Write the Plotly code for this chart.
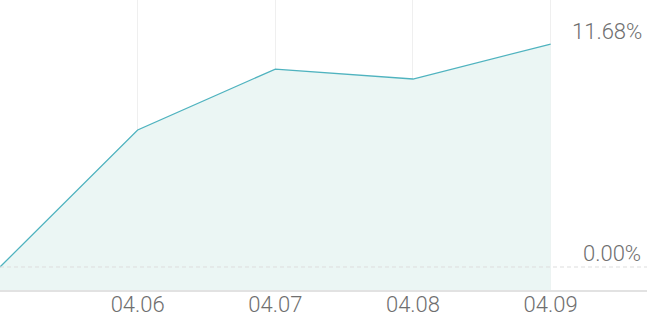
import plotly.graph_objects as go

dates = ["04.05", "04.06", "04.07", "04.08", "04.09"]
returns = [0.00, 7.18, 10.37, 9.85, 11.68]

X_MAX = 4.70
Y_MIN = -1.205
Y_MAX = 13.99

LINE = "#4fb3bf"
FILL = "#ebf6f4"
TEXT = "#6f6f6f"
FONT = "Roboto"

xs = list(range(len(dates)))

fig = go.Figure()
fig.add_trace(go.Scatter(x=xs, y=[Y_MIN] * len(xs), mode="lines",
                         line=dict(width=0), hoverinfo="skip", showlegend=False))
fig.add_trace(go.Scatter(x=xs, y=returns, mode="lines", fill="tonexty",
                         fillcolor=FILL, line=dict(color=LINE, width=1.3),
                         showlegend=False))

fig.add_shape(type="line", xref="paper", x0=0, x1=1, yref="y", y0=0, y1=0,
              line=dict(color="#dddddd", width=1, dash="4px,3px"), layer="above")

top = max(returns)
fig.add_annotation(x=1, xref="paper", y=top, yref="y", text=f"{top:.2f}%",
                   showarrow=False, xanchor="right", yanchor="middle",
                   yshift=13, xshift=-3,
                   font=dict(family=FONT, size=22, color=TEXT, weight=300))
fig.add_annotation(x=1, xref="paper", y=0, yref="y", text=f"{0:.2f}%",
                   showarrow=False, xanchor="right", yanchor="middle",
                   yshift=14, xshift=-4,
                   font=dict(family=FONT, size=22, color=TEXT, weight=300))

fig.update_xaxes(range=[0, X_MAX], tickvals=xs[1:], ticktext=dates[1:],
                 showgrid=True, gridcolor="#efefef", gridwidth=1,
                 showline=True, linecolor="#e2e2e2", linewidth=2,
                 ticks="", zeroline=False, automargin=False, ticklabelstandoff=-6,
                 tickfont=dict(family=FONT, size=22, color=TEXT, weight=300))
fig.update_yaxes(range=[Y_MIN, Y_MAX], showgrid=False, zeroline=False,
                 showticklabels=False, automargin=False)

fig.update_layout(width=647, height=318, margin=dict(l=0, r=0, t=0, b=28),
                  paper_bgcolor="white", plot_bgcolor="white")

fig.write_html("out.html")
